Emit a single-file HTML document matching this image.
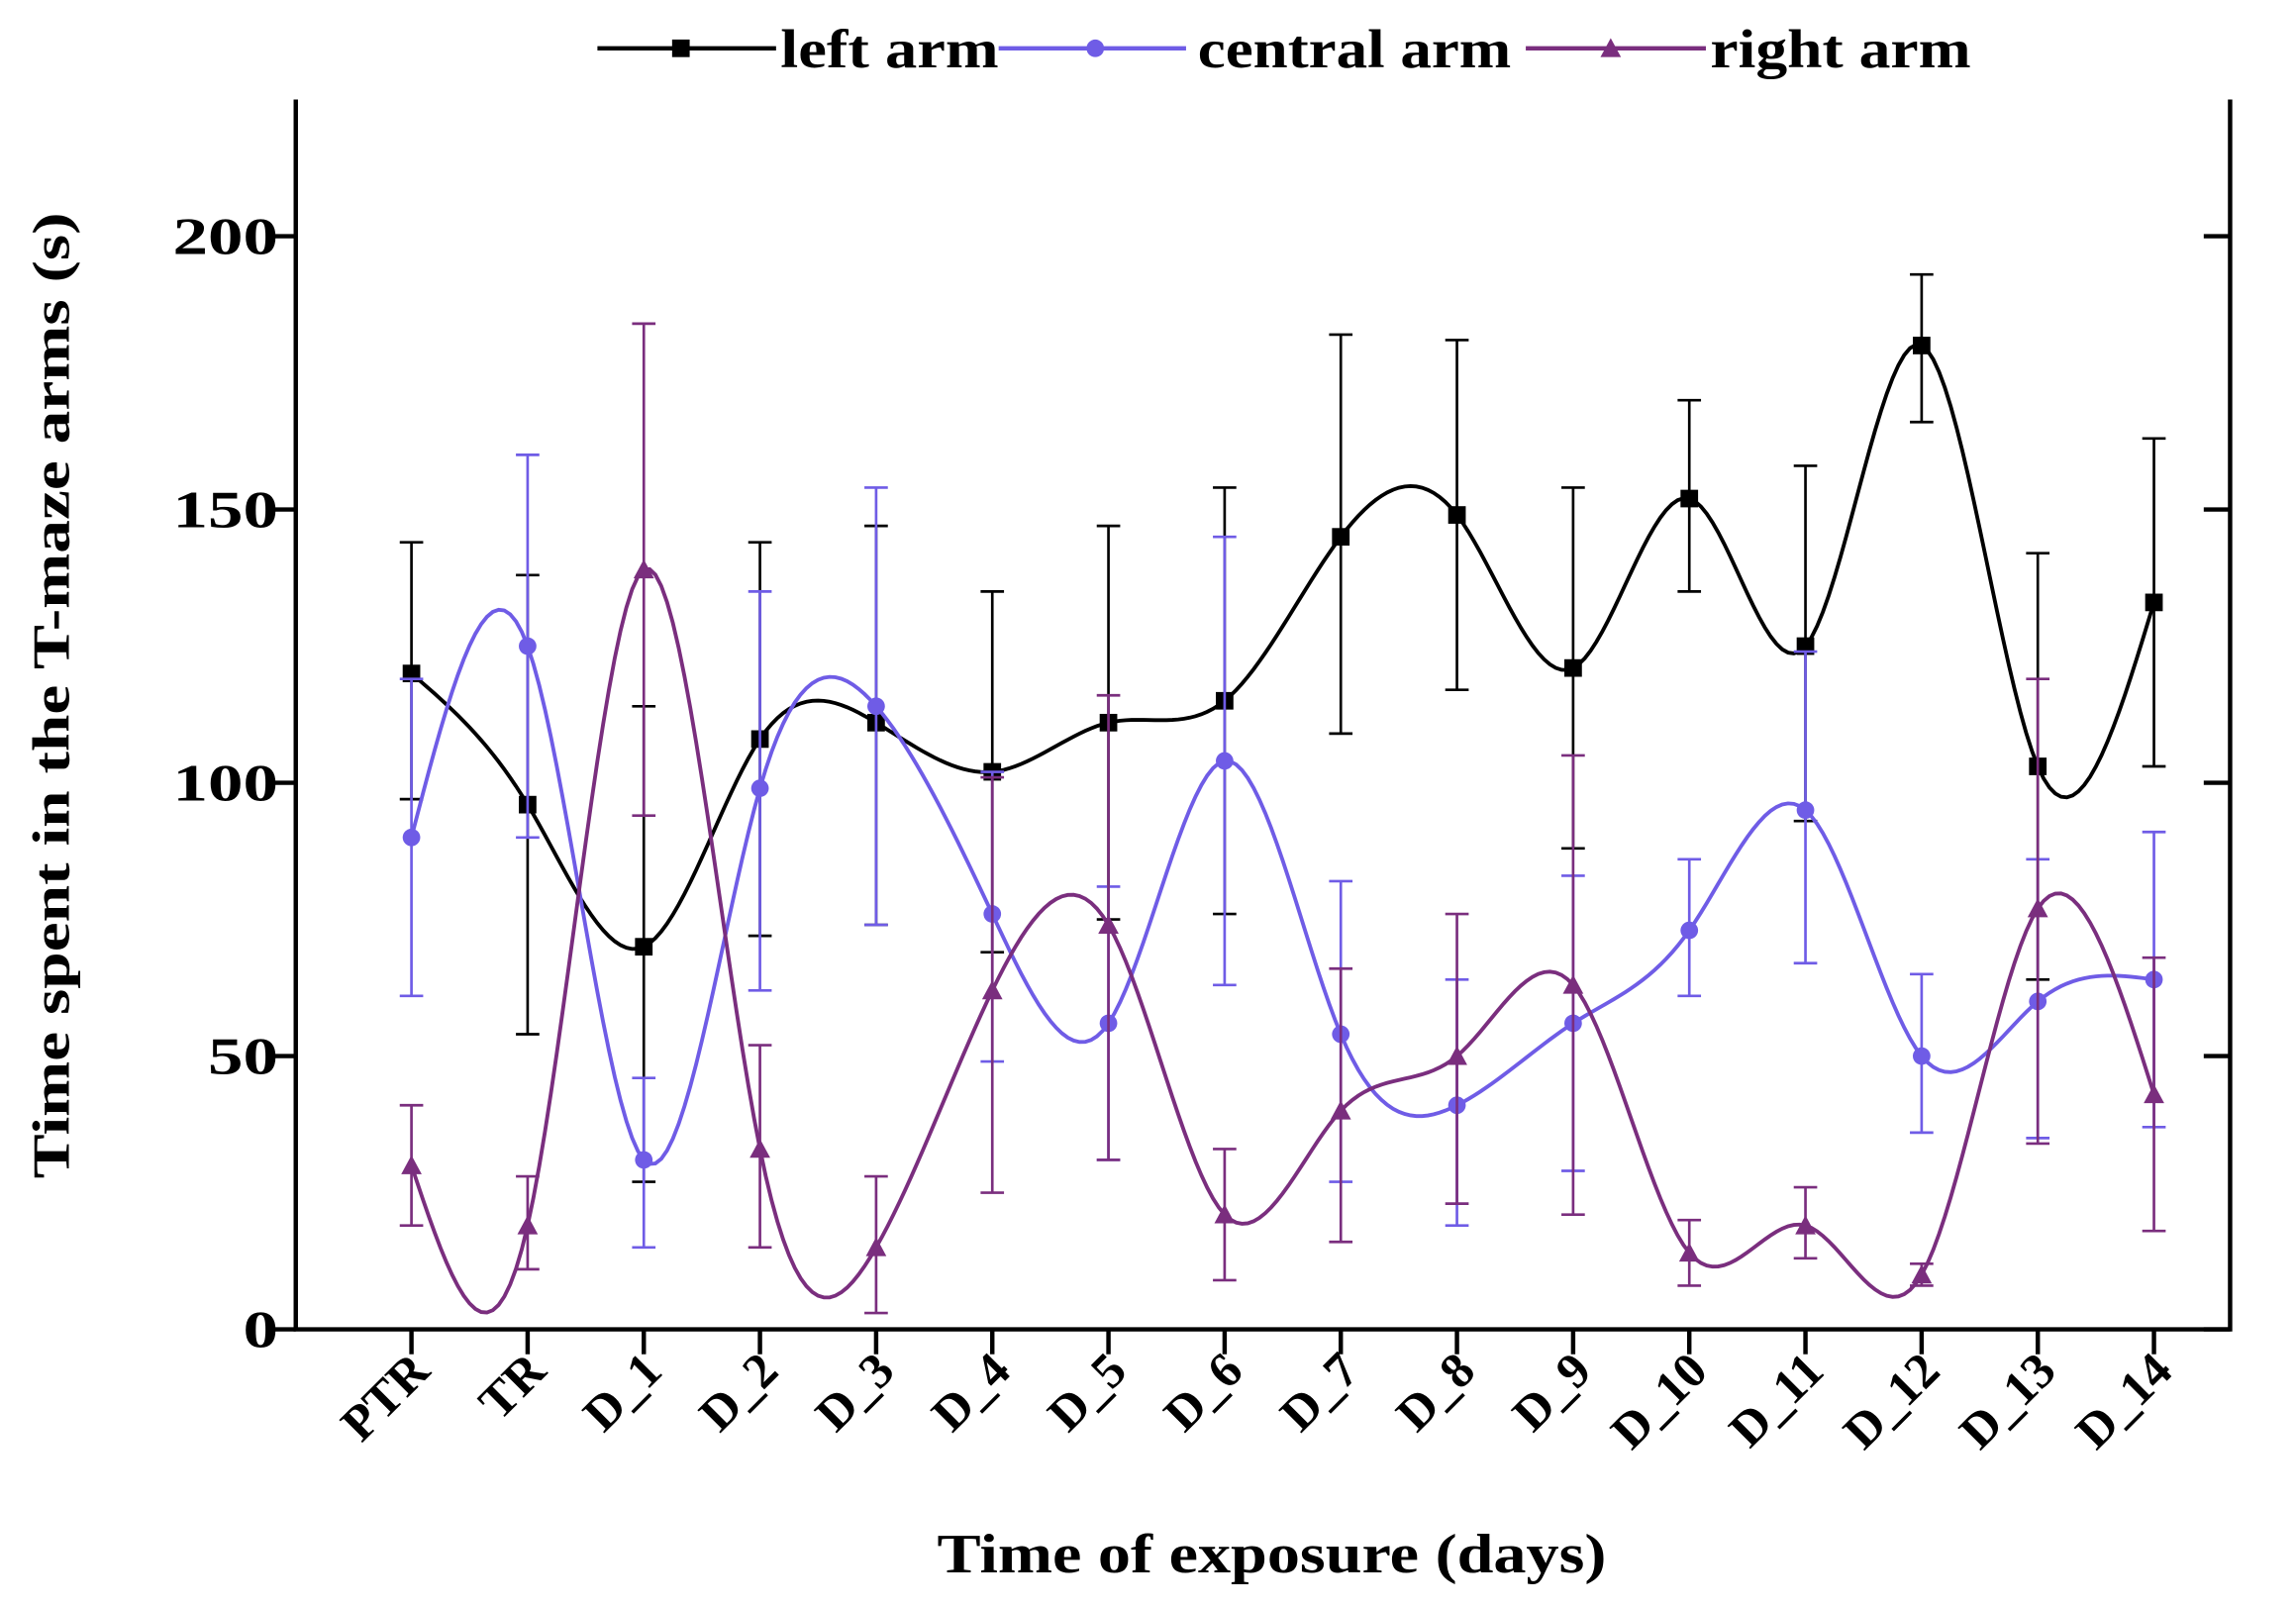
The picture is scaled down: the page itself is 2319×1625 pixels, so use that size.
<!DOCTYPE html>
<html><head><meta charset="utf-8"><style>
html,body{margin:0;padding:0;background:#fff;}
svg{display:block;}
text{font-family:"Liberation Serif",serif;font-weight:bold;fill:#000;}
</style></head><body>
<svg id="chart" width="2319" height="1625" viewBox="0 0 1568 1099" preserveAspectRatio="none" xmlns="http://www.w3.org/2000/svg">
<rect x="0" y="0" width="1568" height="1099" fill="#fff"/>
<g id="axes"></g>
<g id="series"></g>
<g id="legend">
  <g>
    <line x1="408" y1="33" x2="530" y2="33" stroke="#000" stroke-width="3"/>
    <rect x="459" y="27" width="12" height="12" fill="#000"/>
    <text x="533" y="46" font-size="37" textLength="149" lengthAdjust="spacingAndGlyphs">left arm</text>
  </g>
  <g>
    <line x1="682" y1="33" x2="810" y2="33" stroke="#6f5ce6" stroke-width="3"/>
    <circle cx="748" cy="33" r="6" fill="#6f5ce6"/>
    <text x="818" y="46" font-size="37" textLength="214" lengthAdjust="spacingAndGlyphs">central arm</text>
  </g>
  <g>
    <line x1="1042" y1="33" x2="1165" y2="33" stroke="#7a2e7e" stroke-width="3"/>
    <polygon points="1100,26 1107,39 1093,39" fill="#7a2e7e"/>
    <text x="1168" y="46" font-size="37" textLength="178" lengthAdjust="spacingAndGlyphs">right arm</text>
  </g>
</g>
<text x="640" y="1074" font-size="38" textLength="457" lengthAdjust="spacingAndGlyphs">Time of exposure (days)</text>
<text transform="translate(47,805) rotate(-90)" font-size="36" textLength="660" lengthAdjust="spacingAndGlyphs">Time spent in the T-maze arms (s)</text>
</svg>
<script>
const categories=["PTR","TR","D_1","D_2","D_3","D_4","D_5","D_6","D_7","D_8","D_9","D_10","D_11","D_12","D_13","D_14"];
const yTicks=[0,50,100,150,200];
const leftMean=[120,96,70,108,111,102,111,115,145,149,121,152,125,180,103,133];
const leftLow=[97,54,27,72,74,69,75,76,109,117,88,135,93,166,64,103];
const leftHigh=[144,138,114,144,147,135,147,154,182,181,154,170,158,193,142,163];
const centralMean=[90,125,31,99,114,76,56,104,54,41,56,73,95,50,60,64];
const centralLow=[61,90,15,62,74,49,31,63,27,19,29,61,67,36,35,37];
const centralHigh=[119,160,46,135,154,102,81,145,82,64,83,86,124,65,86,91];
const rightMean=[30,19,139,33,15,62,74,21,40,50,63,14,19,10,77,43];
const rightLow=[19,11,94,15,3,25,31,9,16,23,21,8,13,8,34,18];
const rightHigh=[41,28,184,52,28,101,116,33,66,76,105,20,26,12,119,68];

const NS="http://www.w3.org/2000/svg";
const PL=202,PR=1523,PT=68,PB=908,YMAX=225;
function yS(v){return PB-(v/YMAX)*(PB-PT);}
function xS(i){return 281+i*((1471-281)/(categories.length-1));}
function mk(tag,attrs,parent){const e=document.createElementNS(NS,tag);for(const k in attrs)e.setAttribute(k,attrs[k]);parent.appendChild(e);return e;}
const axes=document.getElementById('axes'),series=document.getElementById('series');

const frame=mk('path',{d:`M${PL},${PT} L${PL},${PB} L${PR},${PB} L${PR},${PT}`,fill:'none',stroke:'#000','stroke-width':3},axes);


yTicks.forEach(v=>{
  const y=yS(v);
  const t=mk('line',{x1:PL-17,y1:y,x2:PL,y2:y,stroke:'#000','stroke-width':3},axes);
  
  
  const t2=mk('line',{x1:PR-18,y1:y,x2:PR,y2:y,stroke:'#000','stroke-width':3},axes);
  
  
  const s=String(v);
  const l=mk('text',{x:PL-12,y:y+12,'font-size':36,'text-anchor':'end',textLength:s.length*24,lengthAdjust:'spacingAndGlyphs'},axes);
  l.textContent=s;
  
  
});
categories.forEach((c,i)=>{
  const x=xS(i);
  const t=mk('line',{x1:x,y1:PB,x2:x,y2:PB+17,stroke:'#000','stroke-width':3},axes);
  
  
  const l=mk('text',{transform:`translate(${x+14},${PB+30}) rotate(-45)`,'font-size':34,'text-anchor':'end'},axes);
  l.textContent=c;
  
  
});

function spline(xs,ys){
  const n=xs.length,h=[],al=[],l=[1],mu=[0],z=[0],c=new Array(n).fill(0),b=[],d=[];
  for(let i=0;i<n-1;i++)h[i]=xs[i+1]-xs[i];
  for(let i=1;i<n-1;i++)al[i]=3/h[i]*(ys[i+1]-ys[i])-3/h[i-1]*(ys[i]-ys[i-1]);
  for(let i=1;i<n-1;i++){l[i]=2*(xs[i+1]-xs[i-1])-h[i-1]*mu[i-1];mu[i]=h[i]/l[i];z[i]=(al[i]-h[i-1]*z[i-1])/l[i];}
  for(let j=n-2;j>=0;j--){c[j]=(j>0?z[j]-mu[j]*c[j+1]:0);b[j]=(ys[j+1]-ys[j])/h[j]-h[j]*(c[j+1]+2*c[j])/3;d[j]=(c[j+1]-c[j])/(3*h[j]);}
  let p='';
  for(let i=0;i<n-1;i++){for(let s=0;s<=20;s++){const t=h[i]*s/20;const y=ys[i]+b[i]*t+c[i]*t*t+d[i]*t*t*t;p+=(p?'L':'M')+(xs[i]+t).toFixed(2)+','+y.toFixed(2);}}
  return p;
}
function drawSeries(name,mean,low,high,color,marker){
  const g=mk('g',{},series);
  
  
  mean.forEach((v,i)=>{
    const x=xS(i);
    const e=mk('path',{d:`M${x},${yS(low[i])}L${x},${yS(high[i])}M${x-8},${yS(low[i])}L${x+8},${yS(low[i])}M${x-8},${yS(high[i])}L${x+8},${yS(high[i])}`,stroke:color,'stroke-width':1.8,fill:'none'},g);
    
    
  });
  const xs=mean.map((v,i)=>xS(i)),ys=mean.map(v=>yS(v));
  const ln=mk('path',{d:spline(xs,ys),stroke:color,'stroke-width':2.6,fill:'none'},g);
  
  
  mean.forEach((v,i)=>{
    const x=xS(i),y=yS(v);let m;
    if(marker==='square')m=mk('rect',{x:x-6,y:y-6,width:12,height:12,fill:color},g);
    else if(marker==='circle')m=mk('circle',{cx:x,cy:y,r:6,fill:color},g);
    else m=mk('polygon',{points:`${x},${y-7} ${x+7},${y+6} ${x-7},${y+6}`,fill:color},g);
    
    
  });
}
drawSeries('left-arm',leftMean,leftLow,leftHigh,'#000','square');
drawSeries('central-arm',centralMean,centralLow,centralHigh,'#6f5ce6','circle');
drawSeries('right-arm',rightMean,rightLow,rightHigh,'#7a2e7e','triangle');
</script>
</body></html>
